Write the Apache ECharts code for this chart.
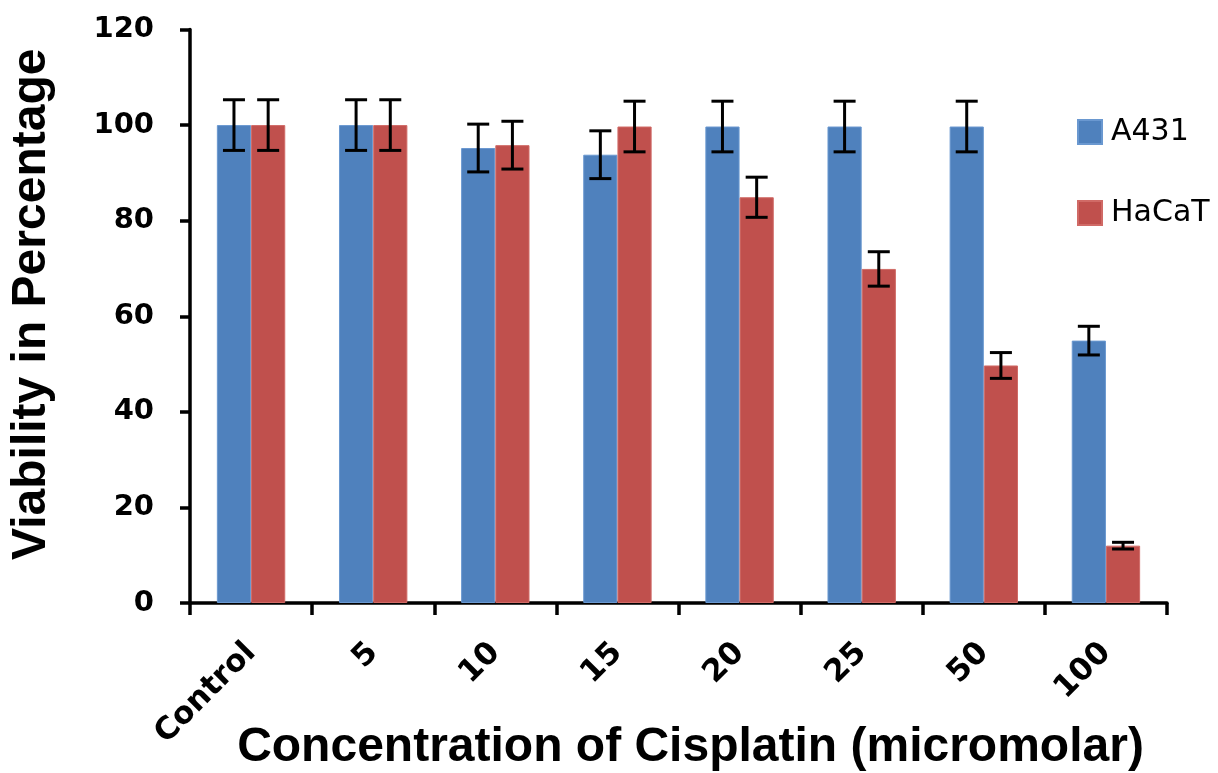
<!DOCTYPE html>
<html>
<head>
<meta charset="utf-8">
<script src="https://cdn.jsdelivr.net/npm/echarts@6/dist/echarts.min.js"></script>
<style>html,body{margin:0;padding:0;background:#fff;}#chart{width:1218px;height:773px;}</style>
</head>
<body>
<div id="chart"></div>
<script>
const categories = ['Control', '5', '10', '15', '20', '25', '50', '100'];
const seriesNames = ['A431', 'HaCaT'];
const a431 = [100, 100, 95.2, 93.8, 99.7, 99.7, 99.7, 54.9];
const a431Err = [5.3, 5.3, 5, 5, 5.3, 5.3, 5.3, 3];
const hacat = [100, 100, 95.8, 99.7, 84.9, 69.9, 49.7, 12];
const hacatErr = [5.3, 5.3, 5, 5.3, 4.2, 3.6, 2.7, 0.7];
const yTicks = { min: 0, max: 120, interval: 20 };
const colors = ['#4F81BD', '#C0504D'];
const borders = ['#6A98D0', '#D06A66'];

const chart = echarts.init(document.getElementById('chart'), null, { renderer: 'canvas' });

function errData(vals, errs) {
  return vals.map((v, i) => [i, v - errs[i], v + errs[i]]);
}

function makeErr(idx, vals, errs) {
  return {
    type: 'custom',
    name: seriesNames[idx] + ' err',
    z: 10,
    silent: true,
    data: errData(vals, errs),
    renderItem: function (params, api) {
      const i = api.value(0);
      const lo = api.coord([i, api.value(1)]);
      const hi = api.coord([i, api.value(2)]);
      const bw = api.size([1, 0])[0];
      const barW = bw * 0.28;
      const x = lo[0] + (idx === 0 ? -barW / 2 : barW / 2);
      const cap = 11;
      const style = { stroke: '#000', lineWidth: 3 };
      return {
        type: 'group',
        children: [
          { type: 'line', shape: { x1: x, y1: lo[1], x2: x, y2: hi[1] }, style: style },
          { type: 'line', shape: { x1: x - cap, y1: lo[1], x2: x + cap, y2: lo[1] }, style: style },
          { type: 'line', shape: { x1: x - cap, y1: hi[1], x2: x + cap, y2: hi[1] }, style: style }
        ]
      };
    }
  };
}

const option = {
  animation: false,
  backgroundColor: '#fff',
  grid: { left: 190, right: 51, top: 29.5, bottom: 170, containLabel: false, outerBoundsMode: 'none' },
  legend: {
    orient: 'vertical',
    left: 1077,
    top: 117,
    padding: 0,
    itemWidth: 24,
    itemHeight: 24,
    itemGap: 51,
    icon: 'rect',
    data: seriesNames,
    textStyle: { fontFamily: 'DejaVu Sans', fontSize: 30, color: '#000', padding: [0, 0, 0, 4] }
  },
  xAxis: {
    type: 'category',
    data: categories,
    name: 'Concentration of Cisplatin (micromolar)',
    nameLocation: 'middle',
    nameGap: 121,
    nameMoveOverlap: false,
    nameTextStyle: { fontFamily: 'Liberation Sans', fontWeight: 'bold', fontSize: 48, color: '#000', padding: [0, 0, 0, 24] },
    axisLine: { lineStyle: { color: '#000', width: 3.5 } },
    axisTick: { show: true, length: 12, lineStyle: { color: '#000', width: 3.5 } },
    axisLabel: { rotate: 45, margin: 45, fontFamily: 'DejaVu Sans', fontWeight: 'bold', fontSize: 31, color: '#000' },
    splitLine: { show: false }
  },
  yAxis: {
    type: 'value',
    min: yTicks.min,
    max: yTicks.max,
    interval: yTicks.interval,
    name: 'Viability in Percentage',
    nameLocation: 'middle',
    nameGap: 106,
    nameMoveOverlap: false,
    nameTextStyle: { fontFamily: 'Liberation Sans', fontWeight: 'bold', fontSize: 48, color: '#000', padding: [0, 0, 28, 24] },
    axisLine: { show: true, lineStyle: { color: '#000', width: 3.5 } },
    axisTick: { show: true, length: 10, lineStyle: { color: '#000', width: 3.5 } },
    axisLabel: { margin: 36, fontFamily: 'DejaVu Sans', fontWeight: 'bold', fontSize: 29, color: '#000' },
    splitLine: { show: false }
  },
  series: [
    {
      type: 'bar', name: seriesNames[0], data: a431,
      barWidth: '28%', barGap: '0%',
      itemStyle: { color: colors[0], borderColor: borders[0], borderWidth: 1 }
    },
    {
      type: 'bar', name: seriesNames[1], data: hacat,
      barWidth: '28%', barGap: '0%',
      itemStyle: { color: colors[1], borderColor: borders[1], borderWidth: 1 }
    },
    makeErr(0, a431, a431Err),
    makeErr(1, hacat, hacatErr)
  ]
};
chart.setOption(option);
</script>
</body>
</html>
